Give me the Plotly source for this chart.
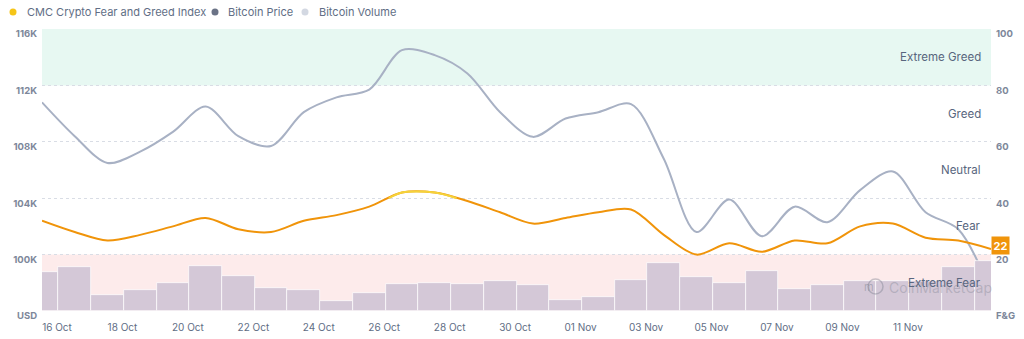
import pandas as pd
import plotly.graph_objects as go

# ---------------- data ----------------
dates = pd.date_range("2025-10-16", periods=30, freq="D")
fear_greed = [32, 28, 25, 27, 30, 33, 29, 28, 32, 34, 37, 42, 42, 39, 35,
              31, 33, 35, 36, 27, 20, 24, 21, 25, 24, 30, 31, 26, 25, 22]
price_k = [110.8, 108.4, 106.5, 107.3, 108.7, 110.5, 108.4, 107.7, 110.1, 111.15,
           111.7, 114.5, 114.15, 112.85, 110.1, 108.35, 109.65, 110.1, 110.67, 106.8,
           101.6, 103.9, 101.3, 103.4, 102.3, 104.57, 105.9, 103.0, 101.8, 97.35]
volume_b = [77, 87, 31, 41, 55, 89, 69, 46, 41, 19, 35, 53, 55, 53, 60,
            51, 21, 27, 61, 96, 67, 55, 79, 43, 51, 59, 60, 60, 88, 99]
price_ticks = [96, 100, 104, 108, 112, 116]
price_tick_text = ["USD", "100K", "104K", "108K", "112K", "116K"]
fg_ticks = [0, 20, 40, 60, 80, 100]
fg_tick_text = ["F&G", "20", "40", "60", "80", "100"]
x_ticks = dates[::2][:14]
zone_names = ["Extreme Fear", "Fear", "Neutral", "Greed", "Extreme Greed"]
zone_mid = [10, 30, 50, 70, 90]
legend_names = ["CMC Crypto Fear and Greed Index", "Bitcoin Price", "Bitcoin Volume"]

# ---------------- style ----------------
W, H = 1024, 339
ML, MR, MT, MB = 42, 33, 29, 28
FONT = "Inter"
ORANGE = "#f0940a"
YELLOW = "#f5d33a"
PRICE_C = "#a8b1c4"
VOL_C = "#d4c8d7"
LABEL_C = "#58667e"
TICK_C = "#7d879a"


def px_x(px):
    return (px - ML) / (W - ML - MR)


def px_y(py):
    return 1 - (py - MT) / (H - MT - MB)


fig = go.Figure()

fig.add_trace(go.Bar(
    x=dates, y=volume_b, yaxis="y3", marker=dict(color=VOL_C, line=dict(color="white", width=0.7)),
    width=86400000, hoverinfo="skip", showlegend=False))

fig.add_trace(go.Scatter(
    x=dates, y=[p * 1000 for p in price_k], mode="lines", yaxis="y",
    line=dict(color=PRICE_C, width=2, shape="spline", smoothing=0.9), showlegend=False))

fig.add_trace(go.Scatter(
    x=dates, y=fear_greed, mode="lines", yaxis="y2",
    line=dict(color=ORANGE, width=2, shape="spline", smoothing=0.9), showlegend=False))

# neutral (>= 40) highlighted segment, with crossing points derived from the data
thr = 40
seg_x, seg_y = [], []
for i in range(len(fear_greed)):
    a = fear_greed[i]
    if a >= thr:
        seg_x.append(dates[i]); seg_y.append(a)
    if i + 1 < len(fear_greed):
        b = fear_greed[i + 1]
        if (a - thr) * (b - thr) < 0:
            t = (thr - a) / (b - a)
            seg_x.append(dates[i] + (dates[i + 1] - dates[i]) * t); seg_y.append(thr)
fig.add_trace(go.Scatter(
    x=seg_x, y=seg_y, mode="lines", yaxis="y2",
    line=dict(color=YELLOW, width=2, shape="spline", smoothing=0.9), showlegend=False))

shapes = [
    dict(type="rect", xref="x domain", x0=0, x1=1, yref="y2", y0=80, y1=100,
         fillcolor="#e7f8f2", line=dict(width=0), layer="below"),
    dict(type="rect", xref="x domain", x0=0, x1=1, yref="y2", y0=0, y1=20,
         fillcolor="#fdebeb", line=dict(width=0), layer="below"),
]

annotations = []
# watermark
annotations.append(dict(xref="paper", x=px_x(887), xanchor="left", yref="paper", y=px_y(287),
                        yanchor="middle", text="CoinMarketCap", showarrow=False,
                        font=dict(family=FONT, size=14, color="rgba(120,125,140,0.35)")))
shapes.append(dict(type="circle", xref="paper", yref="paper",
                   x0=px_x(868), x1=px_x(883), y0=px_y(294), y1=px_y(279),
                   line=dict(color="rgba(120,125,140,0.4)", width=1.5)))
annotations.append(dict(xref="paper", x=px_x(875.5), yref="paper", y=px_y(286.5),
                        yanchor="middle", text="m", showarrow=False,
                        font=dict(family=FONT, size=11, color="rgba(120,125,140,0.45)")))

for name, mid in zip(zone_names, zone_mid):
    annotations.append(dict(xref="paper", x=px_x(983), xanchor="right", yref="y2", y=mid,
                            yanchor="middle", text=name, showarrow=False,
                            font=dict(family=FONT, size=11.5, color=LABEL_C)))

# current value badge
annotations.append(dict(xref="paper", x=1.0, xanchor="left", yref="y2", y=fear_greed[-1],
                        yanchor="middle", yshift=3, text="<b>%d</b>" % fear_greed[-1],
                        showarrow=False, bgcolor=ORANGE, borderpad=1.5,
                        font=dict(family=FONT, size=11, color="white")))

# legend
legend_colors = ["#f5c518", "#6b7386", "#d3d8e2"]
legend_dot_px = [13, 215, 305]
legend_text_px = [25, 226, 317]
for name, col, dx, tx in zip(legend_names, legend_colors, legend_dot_px, legend_text_px):
    shapes.append(dict(type="circle", xref="paper", yref="paper",
                       x0=px_x(dx - 3.5), x1=px_x(dx + 3.5), y0=px_y(15.5), y1=px_y(8.5),
                       fillcolor=col, line=dict(width=0)))
    annotations.append(dict(xref="paper", x=px_x(tx), xanchor="left", yref="paper", y=px_y(12),
                            yanchor="middle", text=name, showarrow=False,
                            font=dict(family=FONT, size=11, color="#616e85")))

fig.update_layout(
    width=W, height=H, margin=dict(l=ML, r=MR, t=MT, b=MB, autoexpand=False),
    paper_bgcolor="white", plot_bgcolor="white", showlegend=False,
    bargap=0, shapes=shapes, annotations=annotations,
    xaxis=dict(type="date", range=[dates[0], dates[-1]], tickvals=x_ticks,
               tickformat="%d %b", showgrid=False, zeroline=False, ticks="",
               ticklabelshift=15, ticklabelstandoff=9, automargin=False,
               tickfont=dict(family=FONT, size=10, color="#616e85")),
    yaxis=dict(range=[96000, 116000], tickvals=[t * 1000 for t in price_ticks],
               ticktext=price_tick_text, showgrid=True, gridcolor="#d9dde5", griddash="dot",
               gridwidth=1, zeroline=False, ticks="", ticklabelshift=5, ticklabelstandoff=4,
               automargin=False,
               tickfont=dict(family=FONT, size=9.5, color=TICK_C, weight="bold")),
    yaxis2=dict(range=[0, 100], overlaying="y", side="right", tickvals=fg_ticks,
                ticktext=fg_tick_text, showgrid=False, zeroline=False, ticks="",
                ticklabelshift=5, ticklabelstandoff=4, automargin=False,
                tickfont=dict(family=FONT, size=9.5, color=TICK_C, weight="bold")),
    yaxis3=dict(range=[0, 563], overlaying="y", visible=False),
)

fig.write_html("out.html")
